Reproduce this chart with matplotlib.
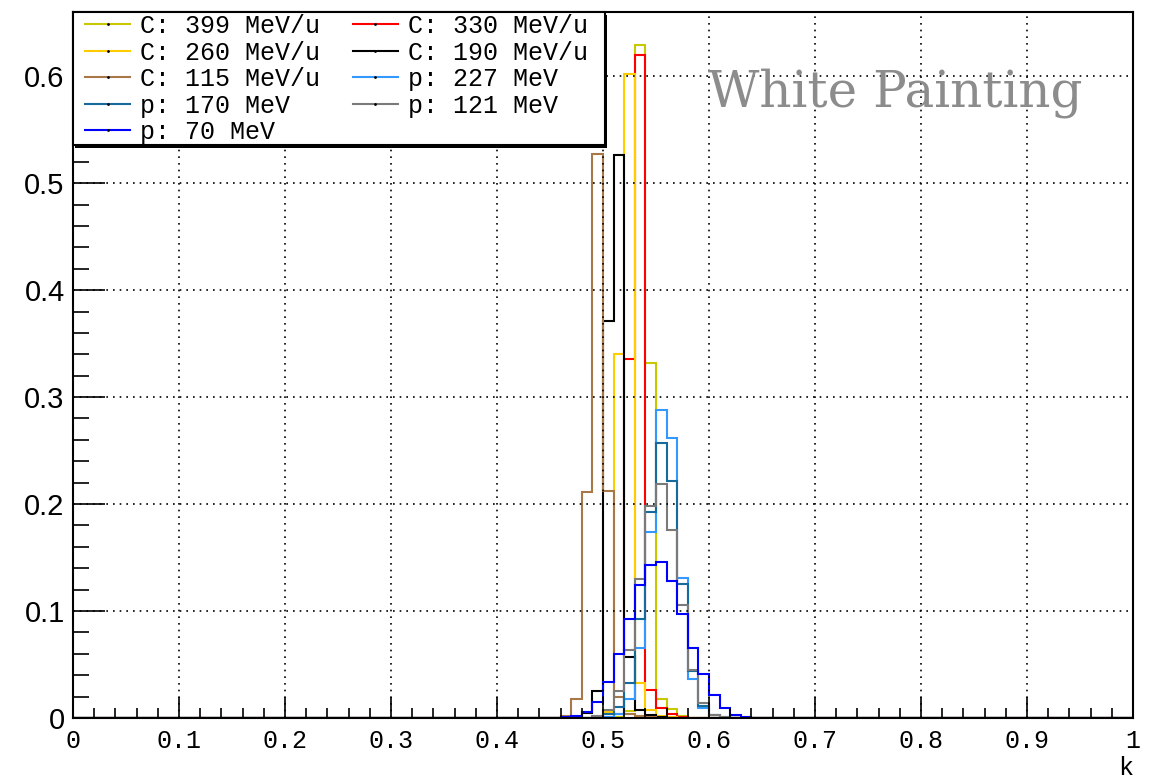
import matplotlib
matplotlib.use('Agg')
import matplotlib.pyplot as plt
from matplotlib.lines import Line2D
from matplotlib.patches import Rectangle
from matplotlib.ticker import MultipleLocator, FuncFormatter
import numpy as np

# histogram: 100 bins on k in [0, 1]; only bins 0.46 .. 0.64 are non-empty
n_bins = 100
first_bin = 46

c399 = [0, 0, 0, 0, 0, 0.001, 0.007, 0.629, 0.332, 0.0175, 0.008, 0.002, 0, 0, 0, 0, 0, 0, 0]
c330 = [0, 0, 0, 0, 0.001, 0.004, 0.336, 0.620, 0.026, 0.009, 0.0035, 0.001, 0, 0, 0, 0, 0, 0, 0]
c260 = [0, 0, 0, 0.001, 0.006, 0.340, 0.602, 0.033, 0.0075, 0.002, 0.001, 0, 0, 0, 0, 0, 0, 0, 0]
c190 = [0, 0, 0.005, 0.025, 0.371, 0.526, 0.057, 0.0075, 0.003, 0.001, 0, 0, 0, 0, 0, 0, 0, 0, 0]
c115 = [0.002, 0.018, 0.2115, 0.527, 0.212, 0.020, 0.004, 0.002, 0.001, 0, 0, 0, 0, 0, 0, 0, 0, 0, 0]
p227 = [0, 0, 0, 0, 0.001, 0.004, 0.018, 0.065, 0.1735, 0.288, 0.262, 0.131, 0.036, 0.009, 0.003, 0, 0, 0, 0]
p170 = [0, 0, 0, 0.001, 0.004, 0.010, 0.033, 0.093, 0.193, 0.257, 0.222, 0.125, 0.044, 0.011, 0.003, 0.001, 0, 0, 0]
p121 = [0, 0, 0, 0.002, 0.0075, 0.025, 0.064, 0.130, 0.198, 0.219, 0.176, 0.106, 0.045, 0.0137, 0.003, 0.001, 0, 0, 0]
p70 = [0.001, 0.002, 0.006, 0.0147, 0.034, 0.060, 0.093, 0.124, 0.143, 0.146, 0.128, 0.097, 0.065, 0.041, 0.0215, 0.0095, 0.003, 0.0012, 0]

series = [
    ('C: 399 MeV/u', c399, '#c8c800'),
    ('C: 330 MeV/u', c330, '#ff0000'),
    ('C: 260 MeV/u', c260, '#ffcc00'),
    ('C: 190 MeV/u', c190, '#000000'),
    ('C: 115 MeV/u', c115, '#a87848'),
    ('p: 227 MeV', p227, '#3399ff'),
    ('p: 170 MeV', p170, '#176a9c'),
    ('p: 121 MeV', p121, '#7a7a7a'),
    ('p: 70 MeV', p70, '#0000ff'),
]

edges = np.linspace(0, 1, n_bins + 1)

fig = plt.figure(figsize=(11.56, 7.80), dpi=100)
ax = fig.add_axes([73/1156, 1 - 718/780, 1060/1156, 706/780])

handles = []
for label, vals, col in series:
    h = np.zeros(n_bins)
    h[first_bin:first_bin + len(vals)] = vals
    ax.stairs(h, edges, color=col, lw=1.5)
    handles.append(Line2D([], [], color=col, lw=1.5, marker='.', markersize=2,
                          markeredgecolor='black', markerfacecolor='black', label=label))

ax.set_xlim(0, 1)
ax.set_ylim(0, 0.66)

ax.xaxis.set_major_locator(MultipleLocator(0.1))
ax.xaxis.set_minor_locator(MultipleLocator(0.02))
ax.yaxis.set_major_locator(MultipleLocator(0.1))
ax.yaxis.set_minor_locator(MultipleLocator(0.02))
ax.xaxis.set_major_formatter(FuncFormatter(lambda v, p: f'{v:g}'))
ax.yaxis.set_major_formatter(FuncFormatter(lambda v, p: f'{v:g}'))

ax.tick_params(axis='x', which='major', direction='in', length=15, width=1.2, pad=8)
ax.tick_params(axis='x', which='minor', direction='in', length=7.5, width=1.2)
ax.tick_params(axis='y', which='major', direction='in', length=23, width=1.2, pad=6)
ax.tick_params(axis='y', which='minor', direction='in', length=11.5, width=1.2)
for lab in ax.get_xticklabels():
    lab.set_fontfamily('Liberation Mono')
    lab.set_fontsize(18)
for lab in ax.get_yticklabels():
    lab.set_fontfamily('Liberation Sans')
    lab.set_fontsize(21)

ax.grid(True, which='major', color='black', linestyle=(0, (1, 3)), lw=1.2)
for sp in ax.spines.values():
    sp.set_linewidth(1.5)

ax.set_xlabel('k', loc='right', fontfamily='Liberation Mono', fontsize=18, labelpad=2)

ax.text(0.599, 0.572, 'White Painting', fontfamily='DejaVu Serif', fontsize=36,
        color='#8c8c8c', va='baseline', ha='left')

# legend box (white, black border with a small shadow like ROOT's TLegend)
box_w = 532 / 1060
box_y = (718 - 145) / 706
ax.add_patch(Rectangle((0.002, box_y - 0.004), box_w, 1 - box_y, transform=ax.transAxes,
                       facecolor='black', edgecolor='black', lw=0, zorder=4, clip_on=False))
ax.add_patch(Rectangle((0, box_y), box_w, 1 - box_y, transform=ax.transAxes,
                       facecolor='white', edgecolor='black', lw=1.5, zorder=5, clip_on=False))

# legend filled row by row like the original: reorder for matplotlib's column fill
order = [0, 2, 4, 6, 8, 1, 3, 5, 7]
leg = ax.legend([handles[i] for i in order], [handles[i].get_label() for i in order],
                ncol=2, loc='upper left', bbox_to_anchor=(12 / 1060, 1 - 2 / 706),
                borderaxespad=0, frameon=False, borderpad=0,
                prop={'family': 'Liberation Mono', 'size': 18}, labelspacing=0.1,
                handlelength=1.8, handletextpad=0.4, columnspacing=1.3)
leg.set_zorder(6)

fig.savefig('out.png', dpi=100)
